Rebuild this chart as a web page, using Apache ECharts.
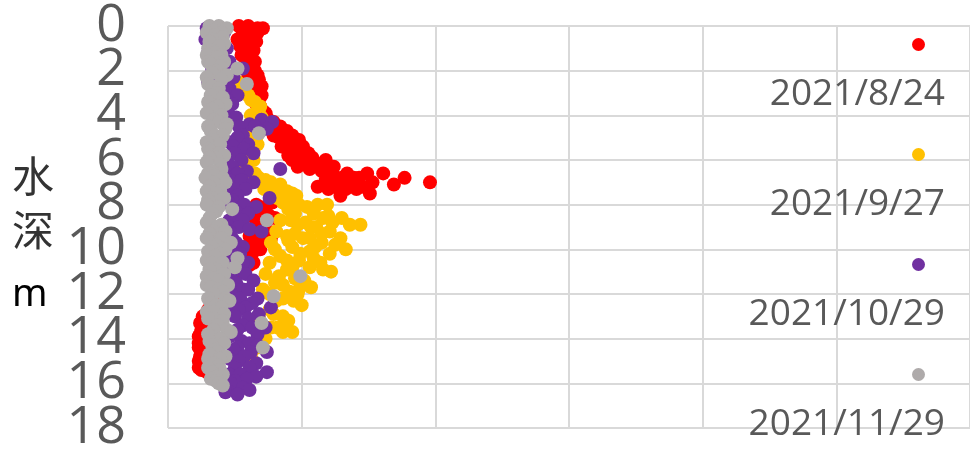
<!DOCTYPE html>
<html>
<head>
<meta charset="utf-8">
<title>水深</title>
<script src="https://cdn.jsdelivr.net/npm/echarts@6/dist/echarts.min.js"></script>
<style>
  html, body { margin: 0; padding: 0; background: #ffffff; }
  #chart { width: 970px; height: 454px; }
</style>
</head>
<body>
<div id="chart"></div>
<script>
// 系列名・色
const seriesNames = ["2021/8/24", "2021/9/27", "2021/10/29", "2021/11/29"];
const seriesColors = ["#FF0000", "#FFC000", "#7030A0", "#AEAAAA"];

// 軸の範囲 (水深は0～18m、2刻み)
const depthMin = 0, depthMax = 18, depthStep = 2;
const valueMin = 0, valueMax = 60, valueStep = 10;
// 目盛ラベル (重なり判定を避けるため2本の軸に交互に載せる)
const depthLabelsA = [0, 4, 8, 12, 16];
const depthLabelsB = [2, 6, 10, 14, 18];

// 各観測日の [値, 水深m]
const obs0824 = [
  [5.3,0.0],[6.0,0.0],[6.7,0.1],[7.1,0.1],[5.5,0.1],[6.3,0.2],[6.7,0.3],[5.6,0.3],[6.4,0.4],[5.9,0.5],
  [5.2,0.6],[6.6,0.7],[6.1,0.8],[5.4,0.9],[5.8,1.0],[6.4,1.1],[6.0,1.2],[5.5,1.3],[6.2,1.5],[6.5,1.6],
  [5.9,1.6],[5.7,1.8],[6.5,2.0],[6.2,2.0],[6.7,2.2],[6.0,2.3],[6.8,2.4],[6.1,2.6],[5.8,2.7],[7.0,2.7],
  [6.5,2.8],[6.3,3.0],[7.0,3.1],[6.8,3.3],[6.6,3.5],[6.9,3.6],[7.1,3.8],[7.3,3.9],[7.4,4.1],[7.9,4.3],
  [7.6,4.4],[8.4,4.5],[7.7,4.6],[8.1,4.6],[8.9,4.7],[8.6,4.8],[7.9,4.9],[9.3,4.9],[8.3,5.0],[8.7,5.0],
  [9.8,5.1],[9.2,5.2],[8.8,5.3],[10.1,5.4],[8.5,5.4],[9.6,5.4],[9.4,5.6],[10.5,5.7],[9.0,5.8],[9.9,5.8],
  [10.8,5.9],[10.0,6.0],[9.3,6.0],[11.8,6.0],[11.0,6.1],[10.3,6.2],[9.7,6.3],[11.3,6.3],[12.4,6.3],[10.6,6.4],
  [11.9,6.4],[11.5,6.5],[12.3,6.6],[13.4,6.6],[13.0,6.8],[13.9,6.8],[12.8,6.9],[11.8,6.9],[12.6,7.0],[13.7,7.0],
  [14.0,7.0],[14.3,6.8],[14.9,6.6],[16.1,6.6],[15.3,7.0],[14.6,7.2],[12.5,7.2],[14.1,7.3],[13.3,7.3],[12.9,7.6],
  [15.1,7.5],[16.9,7.1],[17.7,6.8],[19.6,7.0],[11.2,7.2],[12.0,7.3],[9.2,7.6],[7.8,7.9],[6.6,8.0],[6.9,8.1],
  [7.3,8.3],[6.6,8.4],[7.6,8.5],[6.2,8.5],[7.0,8.7],[8.0,8.6],[7.3,8.9],[6.5,9.0],[6.8,9.1],[7.4,9.2],
  [6.1,9.4],[7.7,9.5],[6.8,9.6],[6.4,9.8],[5.8,9.9],[6.9,10.0],[6.3,10.2],[5.6,10.4],[5.9,10.4],[6.4,10.6],
  [6.1,10.7],[5.4,11.0],[4.8,11.1],[4.9,11.4],[4.3,11.5],[4.5,11.8],[3.9,11.9],[4.1,12.2],[3.5,12.3],[3.7,12.6],
  [3.0,12.7],[3.2,13.0],[2.6,13.0],[2.8,13.3],[2.4,13.3],[2.5,13.6],[2.7,13.6],[2.4,13.8],[2.3,13.9],[2.6,14.1],
  [2.3,14.2],[2.3,14.4],[2.6,14.5],[2.5,14.7],[2.4,14.8],[2.3,15.0],[2.6,15.0],[2.7,15.2],[2.3,15.3],[2.5,15.4],
  [3.1,15.4],[2.9,15.5],[3.6,15.2]
];
const obs0927 = [
  [5.2,2.5],[5.4,2.6],[5.6,2.8],[5.8,3.0],[6.0,3.1],[6.2,3.3],[6.5,3.4],[6.9,3.6],[6.8,3.8],[6.6,3.9],
  [6.2,4.0],[7.0,4.1],[6.4,4.3],[6.8,4.5],[5.9,4.6],[6.1,4.8],[6.6,5.0],[5.8,5.2],[6.7,5.3],[6.3,5.4],
  [6.1,5.6],[5.8,5.8],[6.4,6.0],[5.6,6.2],[5.9,6.3],[6.0,6.5],[6.5,6.6],[6.8,6.8],[7.3,6.9],[7.7,7.0],
  [8.4,7.1],[8.0,7.2],[7.2,7.3],[8.9,7.4],[9.3,7.5],[7.6,7.5],[9.6,7.6],[8.2,7.7],[8.6,7.9],[9.2,7.9],
  [9.8,8.0],[11.2,8.0],[10.4,8.1],[11.9,8.0],[10.9,8.2],[9.0,8.2],[9.5,8.4],[10.9,8.4],[12.0,8.5],[11.6,8.6],
  [13.0,8.6],[9.2,8.7],[8.4,8.7],[10.3,8.8],[12.3,8.8],[13.6,8.9],[14.4,8.9],[9.7,8.9],[10.7,9.0],[11.1,9.0],
  [12.1,9.2],[8.1,9.2],[11.5,9.3],[9.5,9.3],[8.9,9.4],[10.1,9.5],[10.6,9.5],[12.9,9.5],[9.0,9.6],[11.5,9.7],
  [7.7,9.7],[12.5,9.8],[9.3,9.9],[11.0,9.9],[13.3,10.0],[8.0,10.0],[10.6,10.1],[12.1,10.2],[9.9,10.2],[8.4,10.3],
  [10.9,10.4],[9.8,10.5],[8.9,10.5],[11.4,10.6],[7.6,10.6],[10.6,10.8],[9.3,10.8],[8.9,10.9],[11.6,10.9],[12.2,11.0],
  [7.3,11.1],[8.3,11.2],[9.5,11.3],[10.2,11.4],[8.0,11.5],[8.6,11.6],[10.7,11.7],[7.1,11.8],[9.8,11.8],[9.1,11.9],
  [7.6,12.0],[9.7,12.0],[8.6,12.2],[9.4,12.3],[8.1,12.3],[10.0,12.5],[7.6,12.7],[7.9,12.9],[8.6,13.0],[6.8,13.1],
  [9.0,13.2],[8.2,13.5],[7.7,13.5],[6.9,13.6],[9.3,13.7],[8.6,13.7],[7.3,14.0],[6.7,14.4],[6.2,14.8]
];
const obs1029 = [
  [2.9,0.1],[3.6,0.2],[4.2,0.3],[3.2,0.4],[2.8,0.6],[3.9,0.7],[3.4,0.9],[4.4,1.0],[3.0,1.2],[4.0,1.3],
  [3.6,1.5],[4.6,1.6],[5.6,1.9],[3.3,1.9],[4.2,2.1],[4.9,2.3],[3.0,2.5],[3.6,2.5],[4.6,2.8],[4.1,2.9],
  [5.2,3.1],[3.4,3.2],[4.4,3.3],[4.8,3.5],[3.6,3.6],[3.9,3.8],[4.5,3.9],[5.1,4.1],[7.0,4.2],[4.0,4.3],
  [7.8,4.3],[6.1,4.4],[5.3,4.5],[6.5,4.5],[7.4,4.6],[6.9,4.7],[5.6,4.9],[5.2,5.0],[4.6,5.2],[6.0,5.3],
  [4.9,5.4],[5.7,5.5],[6.4,5.7],[5.0,5.7],[4.1,5.8],[5.5,6.0],[4.4,6.1],[4.8,6.3],[8.4,6.4],[5.9,6.5],
  [5.2,6.6],[4.3,6.7],[4.6,6.9],[5.5,6.9],[6.4,7.0],[4.4,7.2],[5.0,7.3],[5.8,7.3],[5.2,7.6],[7.6,7.7],
  [4.8,7.8],[4.5,7.9],[5.7,8.0],[6.6,8.1],[4.9,8.2],[5.3,8.4],[6.0,8.4],[4.6,8.7],[5.6,8.7],[4.4,8.9],
  [5.3,9.0],[6.1,9.1],[7.0,9.2],[4.6,9.2],[4.8,9.5],[5.1,9.7],[5.6,9.9],[4.4,9.9],[5.0,10.2],[5.4,10.2],
  [4.6,10.5],[6.0,10.6],[5.6,10.6],[5.3,10.9],[4.4,11.0],[5.8,11.1],[4.7,11.3],[6.4,11.4],[5.1,11.5],[5.6,11.8],
  [6.0,11.8],[4.6,11.8],[4.9,12.1],[5.4,12.2],[6.7,12.2],[6.3,12.4],[4.7,12.5],[7.7,12.6],[5.8,12.6],[5.3,12.7],
  [6.8,12.9],[5.0,13.0],[6.0,13.1],[5.6,13.4],[7.3,13.5],[6.3,13.5],[5.2,13.6],[6.7,13.8],[4.6,13.9],[5.5,14.1],
  [6.1,14.2],[6.7,14.3],[5.2,14.4],[4.9,14.5],[7.4,14.6],[6.2,14.6],[5.7,14.8],[4.6,14.9],[5.3,15.0],[6.6,15.1],
  [5.0,15.3],[6.1,15.3],[7.4,15.5],[4.6,15.6],[5.4,15.6],[6.6,15.7],[5.9,15.8],[5.0,15.9],[4.7,16.0],[5.6,16.2],
  [6.1,16.3],[4.4,16.3],[4.3,16.4],[5.2,16.5]
];
const obs1129 = [
  [3.1,0.0],[3.8,0.0],[4.4,0.1],[3.4,0.2],[2.9,0.3],[4.0,0.3],[3.5,0.4],[4.1,0.5],[3.3,0.6],[3.1,0.7],
  [4.2,0.8],[3.8,0.9],[3.0,1.0],[3.3,1.1],[3.5,1.2],[2.9,1.3],[4.0,1.3],[3.7,1.4],[4.2,1.6],[3.0,1.6],
  [3.2,1.7],[3.9,1.8],[5.2,1.9],[3.6,2.0],[3.3,2.1],[4.4,2.2],[2.9,2.3],[4.0,2.4],[5.9,2.6],[3.0,2.6],
  [3.3,2.7],[3.8,2.8],[3.6,3.0],[3.2,3.1],[4.1,3.2],[3.0,3.4],[4.3,3.5],[3.7,3.6],[3.3,3.7],[2.9,3.9],
  [4.0,4.0],[3.4,4.2],[3.8,4.3],[4.4,4.4],[3.0,4.5],[4.3,4.6],[3.2,4.7],[6.8,4.8],[3.5,4.9],[4.1,4.9],
  [3.4,5.1],[2.9,5.2],[3.9,5.3],[3.0,5.5],[3.2,5.6],[3.8,5.7],[4.2,5.8],[3.6,5.9],[3.1,5.9],[2.9,6.1],
  [3.9,6.2],[4.0,6.4],[3.3,6.5],[3.0,6.6],[3.5,6.7],[2.8,6.8],[4.1,6.8],[3.7,6.9],[4.3,7.0],[3.4,7.0],
  [3.1,7.2],[3.9,7.4],[2.9,7.4],[3.6,7.5],[3.3,7.7],[4.2,7.7],[3.0,7.8],[2.9,8.0],[3.8,8.1],[4.8,8.2],
  [3.6,8.3],[3.3,8.4],[3.1,8.6],[7.4,8.7],[2.9,8.8],[4.0,8.9],[3.7,9.0],[3.4,9.2],[4.3,9.2],[3.1,9.3],
  [2.9,9.5],[4.0,9.5],[4.7,9.7],[3.6,9.8],[3.3,9.9],[4.3,10.0],[3.0,10.1],[3.9,10.2],[3.5,10.3],[5.2,10.4],
  [2.9,10.5],[3.3,10.6],[4.1,10.6],[5.0,10.8],[3.6,10.9],[3.1,10.9],[4.2,11.1],[9.9,11.2],[2.9,11.2],[3.4,11.3],
  [3.8,11.4],[4.5,11.6],[2.9,11.6],[3.2,11.7],[3.8,11.8],[4.1,11.9],[3.4,12.0],[7.9,12.1],[3.0,12.2],[4.3,12.2],
  [4.6,12.3],[3.2,12.4],[3.6,12.5],[4.0,12.6],[2.9,12.8],[3.4,12.8],[4.2,12.9],[3.4,13.1],[3.0,13.1],[4.1,13.2],
  [7.0,13.3],[3.7,13.4],[4.4,13.6],[3.4,13.6],[4.7,13.7],[3.0,13.8],[3.9,14.0],[3.1,14.1],[4.2,14.2],[3.3,14.3],
  [7.1,14.4],[3.5,14.5],[3.7,14.6],[3.1,14.7],[4.3,14.8],[3.0,14.9],[3.9,14.9],[3.4,15.1],[3.8,15.2],[3.0,15.3],
  [3.9,15.4],[3.3,15.5],[4.1,15.6],[3.6,15.7],[3.2,15.8],[3.6,15.9],[3.8,16.0],[4.1,16.1]
];
const allObs = [obs0824, obs0927, obs1029, obs1129];

const myChart = echarts.init(document.getElementById("chart"));

// 凡例: マーカーを名前の上に置く
const legendRich = {
  t: { fontSize: 37, fontFamily: "Open Sans", color: "#595959", lineHeight: 44, align: "right" },
  gap: { width: 20, height: 13, lineHeight: 56, align: "right" }
};
seriesColors.forEach((c, i) => {
  legendRich["m" + i] = { width: 13, height: 13, borderRadius: 7, backgroundColor: c, lineHeight: 56, align: "right" };
});

const depthLabelStyle = {
  fontSize: 52, fontFamily: "Open Sans", color: "#595959", margin: 42,
  showMinLabel: true, showMaxLabel: true
};

const option = {
  animation: false,
  grid: { left: 168, top: 25, right: -8, bottom: 26 },
  legend: {
    orient: "vertical",
    right: 25,
    top: 38,
    padding: 0,
    itemGap: 35,
    itemWidth: 0,
    itemHeight: 0,
    selectedMode: false,
    data: seriesNames,
    formatter: function (name) {
      const i = seriesNames.indexOf(name);
      return "{m" + i + "|}{gap|}\n{t|" + name + "}";
    },
    textStyle: { width: 210, rich: legendRich }
  },
  xAxis: {
    type: "value",
    min: valueMin,
    max: valueMax,
    interval: valueStep,
    axisLine: { show: false },
    axisTick: { show: false },
    axisLabel: { show: false },
    splitLine: { lineStyle: { color: "#D9D9D9", width: 2 } }
  },
  yAxis: [
    {
      type: "value",
      position: "left",
      inverse: true,
      min: depthMin,
      max: depthMax,
      interval: depthStep,
      axisLine: { show: false },
      axisTick: { show: false },
      axisLabel: Object.assign({ customValues: depthLabelsA }, depthLabelStyle),
      splitLine: { lineStyle: { color: "#D9D9D9", width: 2 } },
      name: "{a|水}\n{a|深}\n{b|m}",
      nameLocation: "middle",
      nameRotate: 0,
      nameGap: 156,
      nameTextStyle: {
        align: "left",
        padding: [29, 0, 0, 0],
        rich: {
          a: { fontSize: 42, fontFamily: "Noto Sans CJK SC", color: "#333333", lineHeight: 54 },
          b: { fontSize: 38, fontFamily: "Noto Sans", color: "#000000", lineHeight: 76 }
        }
      }
    },
    {
      type: "value",
      position: "left",
      offset: 0,
      inverse: true,
      min: depthMin,
      max: depthMax,
      interval: depthStep,
      axisLine: { show: false },
      axisTick: { show: false },
      axisLabel: Object.assign({ customValues: depthLabelsB }, depthLabelStyle),
      splitLine: { show: false }
    }
  ],
  series: seriesNames.map((name, i) => ({
    name: name,
    type: "scatter",
    yAxisIndex: 0,
    data: allObs[i],
    symbol: "circle",
    symbolSize: 14,
    itemStyle: { color: seriesColors[i], opacity: 1 }
  }))
};

myChart.setOption(option);
</script>
</body>
</html>
